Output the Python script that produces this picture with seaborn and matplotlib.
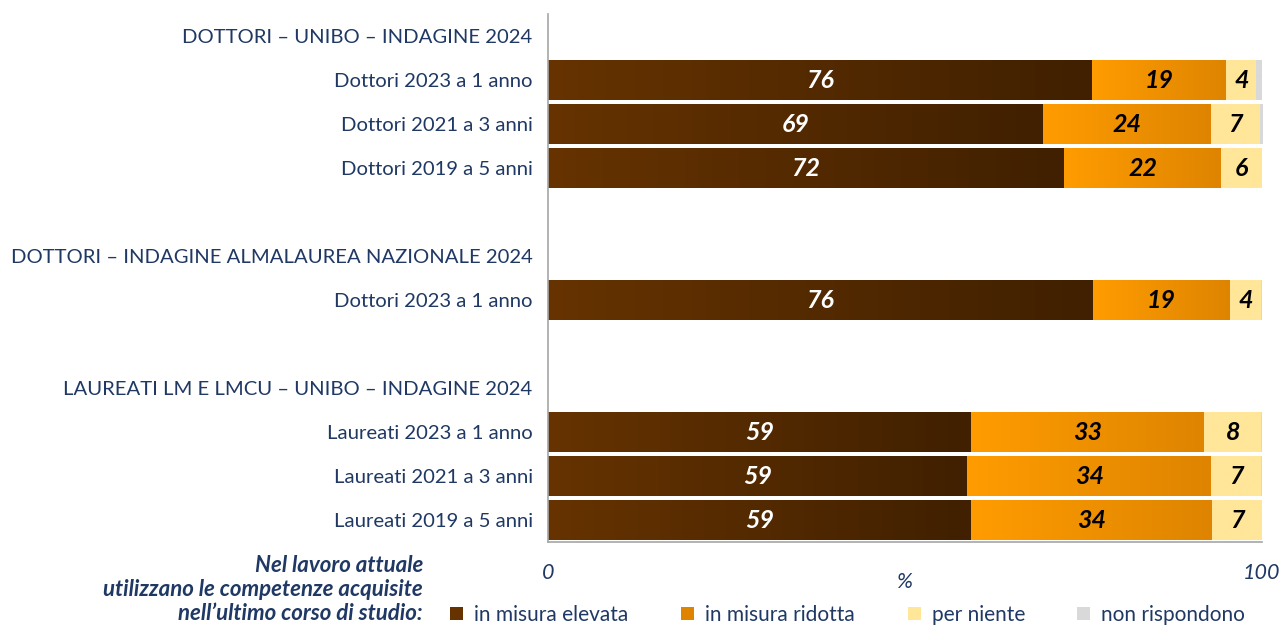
import numpy as np
import pandas as pd
import matplotlib
matplotlib.use("Agg")
import matplotlib.pyplot as plt
import seaborn as sns
from matplotlib.colors import LinearSegmentedColormap
from matplotlib.patches import Patch

# rows of the chart, top to bottom ("" = blank slot)
row_ids = ["h1", "d23", "d21", "d19", "b1", "h2", "n23", "b2", "h3", "l23", "l21", "l19"]
row_labels = ["DOTTORI – UNIBO – INDAGINE 2024", "Dottori 2023 a 1 anno", "Dottori 2021 a 3 anni",
              "Dottori 2019 a 5 anni", "", "DOTTORI – INDAGINE ALMALAUREA NAZIONALE 2024",
              "Dottori 2023 a 1 anno", "", "LAUREATI LM E LMCU – UNIBO – INDAGINE 2024",
              "Laureati 2023 a 1 anno", "Laureati 2021 a 3 anni", "Laureati 2019 a 5 anni"]

# data rows only
data_ids = ["d23", "d21", "d19", "n23", "l23", "l21", "l19"]
elevata = [76.2, 69.3, 72.3, 76.3, 59.2, 58.7, 59.2]
ridotta = [18.8, 23.6, 22.0, 19.2, 32.7, 34.2, 33.8]
per_niente = [4.2, 6.8, 5.7, 4.4, 8.0, 7.0, 7.0]
non_risp = [0.8, 0.3, 0.0, 0.1, 0.1, 0.1, 0.0]

series_names = ["in misura elevata", "in misura ridotta", "per niente", "non rispondono"]

NAVY = "#1F3864"
grad = {
    "in misura elevata": ("#663300", "#402000"),
    "in misura ridotta": ("#FF9C00", "#DE8400"),
    "per niente": ("#FFE699", "#FFE699"),
    "non rispondono": ("#D9D9D9", "#D9D9D9"),
}

df = pd.DataFrame({"row": data_ids, "in misura elevata": elevata, "in misura ridotta": ridotta,
                   "per niente": per_niente, "non rispondono": non_risp})
cols = series_names
starts = df[cols].cumsum(axis=1) - df[cols]
ends = df[cols].cumsum(axis=1)

plt.rcParams["font.family"] = ["Lato", "DejaVu Sans"]
fig = plt.figure(figsize=(12.81, 6.26), dpi=100)
ax = fig.add_axes([548 / 1281, 1 - 542 / 626, 714 / 1281, 528 / 626])

# stacked via overlapping cumulative bars (outermost first)
for name in reversed(cols):
    plot_df = pd.DataFrame({"row": data_ids, "cum": ends[name]})
    sns.barplot(data=plot_df, x="cum", y="row", order=row_ids, orient="y",
                color=grad[name][1], width=0.9, saturation=1, ax=ax, zorder=1)

# gradient overlays on each visible segment
xs = np.linspace(0, 1, 256).reshape(1, -1)
for i, rid in enumerate(data_ids):
    pos = row_ids.index(rid)
    for name in cols:
        s, e = starts.loc[i, name], ends.loc[i, name]
        if e - s <= 0:
            continue
        cmap = LinearSegmentedColormap.from_list(name, grad[name])
        ax.imshow(xs, cmap=cmap, aspect="auto", extent=[s, e, pos + 0.45, pos - 0.45],
                  zorder=2, interpolation="bilinear")
        if name != "non rispondono":
            ax.text((s + e) / 2, pos, f"{round(df.loc[i, name])}", ha="center", va="center",
                    fontsize=18, fontweight="bold", fontstyle="italic", zorder=4,
                    color="white" if name == "in misura elevata" else "black")

ax.set_xlim(0, 100)
ax.set_ylim(len(row_ids) - 0.5, -0.5)
ax.set_yticks(range(len(row_ids)))
ax.set_yticklabels(row_labels, fontsize=14.6, color=NAVY)
ax.set_xticks([0, 100])
ax.set_xticklabels(["0", "100"], fontsize=15.5, color=NAVY, fontstyle="italic")
ax.tick_params(axis="y", length=0, pad=11)
ax.tick_params(axis="x", length=0, pad=15)
ax.set_xlabel("%", fontsize=15.5, color=NAVY, fontstyle="italic", labelpad=-8)
ax.set_ylabel("")
for sp in ["top", "right"]:
    ax.spines[sp].set_visible(False)
for sp in ["left", "bottom"]:
    ax.spines[sp].set_color("#A6A6A6")
    ax.spines[sp].set_linewidth(1.2)

fig.text(423 / 1281, 1 - 555 / 626,
         "Nel lavoro attuale\nutilizzano le competenze acquisite\nnell’ultimo corso di studio:",
         ha="right", va="top", fontsize=16, fontweight="bold", fontstyle="italic", color=NAVY,
         linespacing=1.18)

# one legend entry per column, placed like the reference
legend_x = [450, 681, 908, 1077]
for name, lx in zip(series_names, legend_x):
    c = grad[name][0] if name == "in misura elevata" else grad[name][1]
    fig.legend([Patch(facecolor=c, edgecolor="none")], [name], loc="center left",
               bbox_to_anchor=(lx / 1281, 1 - 615 / 626), frameon=False, fontsize=15,
               handlelength=0.62, handleheight=0.62, handletextpad=0.55,
               borderpad=0, borderaxespad=0, labelcolor=NAVY)

fig.savefig("out.png", dpi=100)
